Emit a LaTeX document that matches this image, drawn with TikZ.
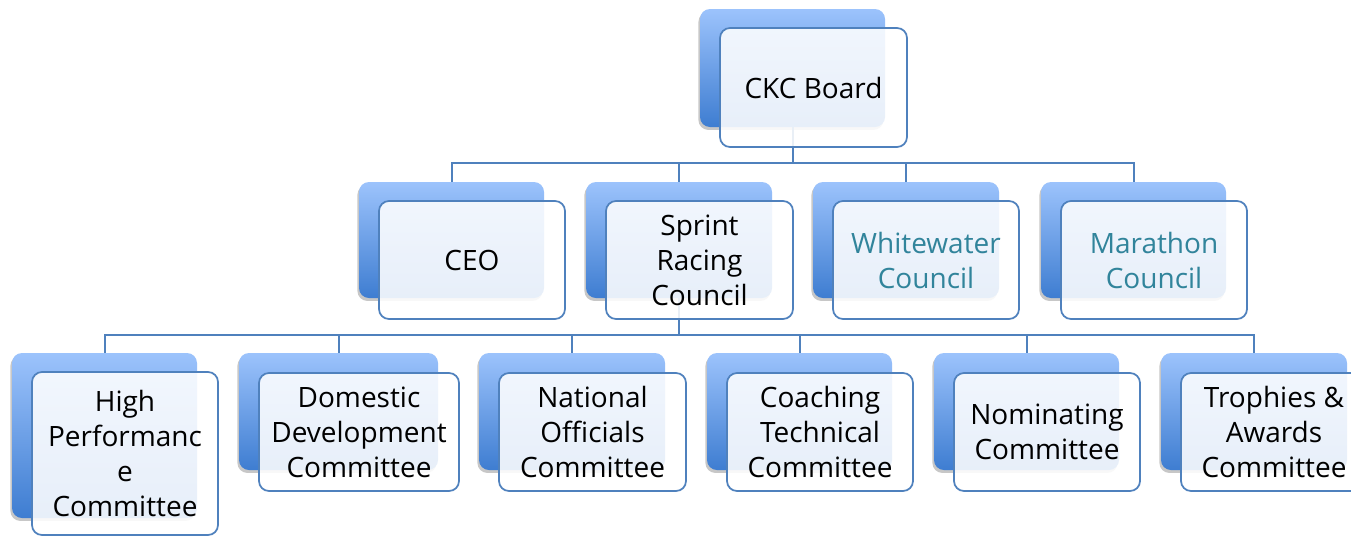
\documentclass[tikz,border=0pt]{standalone}
\usepackage{fontspec}
\setmainfont{Open Sans}
\usetikzlibrary{shadows}
\definecolor{linkblue}{RGB}{79,129,189}
\definecolor{tabtop}{RGB}{156,195,252}
\definecolor{tabbot}{RGB}{62,125,209}
\definecolor{tealtext}{RGB}{49,132,155}
\tikzset{
  sz/.style 2 args={minimum width=#1*0.75pt, minimum height=#2*0.75pt},
  tab/.style={rectangle, rounded corners=7.5pt, top color=tabtop, bottom color=tabbot,
    draw=none, inner sep=0pt,
    drop shadow={shadow xshift=-1.2pt, shadow yshift=-2.2pt, opacity=0.22, fill=black}},
  card/.style={rectangle, rounded corners=7.5pt, draw=linkblue, line width=1.3pt,
    fill=white, fill opacity=0.88, text opacity=1, align=center, inner sep=0pt,
    font=\fontsize{21}{26.25}\selectfont},
  link/.style={draw=linkblue, line width=1.5pt},
}
\begin{document}
\begin{tikzpicture}[x=0.75pt, y=-0.75pt]
  \fill[white] (0,0) rectangle (1351,536);
  \useasboundingbox (0,0) rectangle (1351,536);

  % bus heights
  \coordinate (busA) at (0,163);
  \coordinate (busB) at (0,335);

  % back tabs
  \node[tab, sz={185}{118}] (ckcT) at (792.5,68) {};
  \node[tab, sz={185}{116}] (ceoT) at (451.5,240) {};
  \node[tab, sz={186}{116}] (sprT) at (679,240) {};
  \node[tab, sz={186}{116}] (wwT)  at (906,240) {};
  \node[tab, sz={185}{116}] (marT) at (1133.5,240) {};
  \node[tab, sz={185}{165}] (hpT)  at (104.5,435.5) {};
  \node[tab, sz={199}{117}] (domT) at (338.5,411.5) {};
  \node[tab, sz={186}{117}] (natT) at (572,411.5) {};
  \node[tab, sz={185}{117}] (coaT) at (799.5,411.5) {};
  \node[tab, sz={185}{117}] (nomT) at (1026.5,411.5) {};
  \node[tab, sz={186}{117}] (troT) at (1254,411.5) {};

  % connectors: board to councils, sprint council to committees
  \foreach \c in {ceoT,sprT,wwT,marT}
    \draw[link] (ckcT.south) -- (ckcT.south |- busA) -| (\c.north);
  \foreach \c in {hpT,domT,natT,coaT,nomT,troT}
    \draw[link] (sprT.south) -- (sprT.south |- busB) -| (\c.north);

  % front cards
  \node[card, sz={187}{119}] (ckc) at (813.5,87.5) {CKC Board};
  \node[card, sz={186}{118}] (ceo) at (472,260) {CEO};
  \node[card, sz={187}{118}] (spr) at (699.5,260) {Sprint\\Racing\\Council};
  \node[card, sz={186}{118}, text=tealtext] (ww) at (926,260) {Whitewater\\Council};
  \node[card, sz={186}{118}, text=tealtext] (mar) at (1154,260) {Marathon\\Council};
  \node[card, sz={186}{163}] (hp) at (125,453.5) {High\\Performanc\\e\\Committee};
  \node[card, sz={200}{118}] (dom) at (359,432) {Domestic\\Development\\Committee};
  \node[card, sz={187}{118}] (nat) at (592.5,432) {National\\Officials\\Committee};
  \node[card, sz={186}{118}] (coa) at (820,432) {Coaching\\Technical\\Committee};
  \node[card, sz={186}{118}] (nom) at (1047,432) {Nominating\\Committee};
  \node[card, sz={186}{118}] (tro) at (1274,432) {Trophies \&\\Awards\\Committee};
\end{tikzpicture}
\end{document}
